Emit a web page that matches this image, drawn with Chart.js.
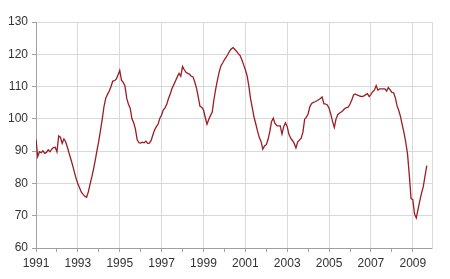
<!DOCTYPE html>
<html>
<head>
<meta charset="utf-8">
<script src="https://cdn.jsdelivr.net/npm/chart.js@4.4.1/dist/chart.umd.min.js"></script>
<style>
  html, body { margin: 0; padding: 0; background: #fff; }
  #wrap { position: relative; width: 450px; height: 279px; }
</style>
</head>
<body>
<div id="wrap"><canvas id="chart"></canvas></div>
<script>
// monthly index, Jan 1991 .. Sep 2009
const startYear = 1991;
const indexValues = [
  93.7, 88.3, 89.8, 89.5, 90.1, 89.3, 89.6, 90.4, 89.8, 90.6, 91.1, 91.2,       // 1991
  89.8, 94.7, 94.3, 92.4, 93.8, 92.9, 91.2, 89.3, 87.5, 85.6, 83.5, 81.5,       // 1992
  79.9, 78.6, 77.3, 76.6, 76.0, 75.7, 77.4, 79.8, 82.0, 84.5, 87.3, 90.3,       // 1993
  93.2, 96.6, 100.0, 103.9, 106.4, 107.6, 108.6, 110.0, 111.7, 111.8, 112.3, 113.6, // 1994
  115.0, 112.0, 111.3, 110.2, 106.4, 104.5, 103.3, 100.0, 98.8, 96.8, 93.5, 92.6,  // 1995
  92.5, 92.8, 92.6, 93.1, 92.4, 92.5, 93.3, 95.0, 96.6, 97.6, 98.4, 100.2,      // 1996
  101.2, 102.8, 103.4, 104.6, 106.4, 107.8, 109.5, 110.6, 111.8, 113.0, 114.1, 113.2, // 1997
  116.2, 115.2, 114.4, 114.1, 113.8, 113.2, 113.0, 111.4, 109.5, 106.8, 103.9, 103.6, // 1998
  102.8, 100.5, 98.3, 99.8, 101.0, 102.0, 106.0, 109.2, 112.0, 114.5, 116.4, 117.3,   // 1999
  118.3, 119.1, 120.0, 121.0, 121.7, 122.1, 121.5, 120.9, 120.2, 119.6, 118.3, 116.8, // 2000
  115.2, 113.4, 110.2, 106.2, 103.4, 100.5, 98.4, 96.2, 94.2, 93.0, 90.6, 91.6,  // 2001
  92.0, 93.6, 96.0, 99.1, 100.2, 98.6, 97.9, 97.8, 97.8, 95.3, 97.6, 98.8,       // 2002
  97.6, 95.2, 94.0, 93.3, 92.4, 91.0, 92.8, 93.4, 94.0, 95.8, 99.9, 100.5,       // 2003
  101.6, 103.8, 104.8, 105.1, 105.3, 105.6, 105.9, 106.3, 106.8, 104.7, 104.6, 104.3, // 2004
  103.3, 101.4, 99.2, 97.3, 100.0, 101.3, 101.8, 102.1, 102.6, 103.2, 103.5, 103.6,   // 2005
  104.6, 105.8, 107.4, 107.7, 107.4, 107.2, 107.0, 106.9, 107.1, 107.5, 107.8, 106.9, // 2006
  107.6, 108.4, 108.9, 110.3, 108.9, 109.3, 109.3, 109.3, 109.3, 108.6, 109.7, 109.0, // 2007
  108.2, 108.1, 106.5, 104.0, 102.5, 100.6, 98.0, 95.6, 92.6, 89.0, 82.5, 75.3,      // 2008
  75.0, 70.5, 69.3, 72.0, 74.6, 77.0, 79.0, 82.3, 85.5                               // 2009
];
const yearTicks = [1991, 1992, 1993, 1994, 1995, 1996, 1997, 1998, 1999, 2000,
                   2001, 2002, 2003, 2004, 2005, 2006, 2007, 2008, 2009];
const labelYears = [1991, 1993, 1995, 1997, 1999, 2001, 2003, 2005, 2007, 2009];

const points = indexValues.map((v, i) => ({ x: startYear + i / 12, y: v }));

const gridColor = '#d9d9d9';
const axisColor = '#a0a0a0';
const textFont = { family: "'Liberation Sans', Arial, sans-serif", size: 12 };

new Chart(document.getElementById('chart'), {
  type: 'line',
  data: {
    datasets: [{
      data: points,
      borderColor: '#9b1c22',
      borderWidth: 1.3,
      pointRadius: 0,
      tension: 0,
      fill: false
    }]
  },
  options: {
    responsive: true,
    maintainAspectRatio: false,
    animation: false,
    layout: { padding: { top: 22, right: 18, left: 0, bottom: 0 } },
    plugins: { legend: { display: false }, tooltip: { enabled: false } },
    scales: {
      x: {
        type: 'linear',
        min: startYear,
        max: startYear + 227 / 12,
        afterBuildTicks: (scale) => { scale.ticks = yearTicks.map(v => ({ value: v })); },
        afterFit: (scale) => { scale.height = 31; },
        ticks: {
          autoSkip: false,
          maxRotation: 0,
          padding: 4,
          color: '#333',
          font: textFont,
          callback: (v) => labelYears.includes(v) ? String(v) : ''
        },
        grid: {
          color: (c) => (c.tick && labelYears.includes(c.tick.value)) ? gridColor : 'rgba(0,0,0,0)',
          tickColor: axisColor,
          tickLength: 4
        },
        border: { color: axisColor, width: 1 }
      },
      y: {
        min: 60,
        max: 130,
        afterFit: (scale) => { scale.width = 36; },
        ticks: { stepSize: 10, padding: 4, color: '#333', font: textFont },
        grid: { color: gridColor, tickColor: axisColor, tickLength: 4 },
        border: { color: axisColor, width: 1 }
      },
      y2: {
        position: 'right',
        min: 60,
        max: 130,
        afterFit: (scale) => { scale.width = 0; },
        ticks: { display: false },
        grid: { drawOnChartArea: false, drawTicks: false },
        border: { color: gridColor, width: 1 }
      }
    }
  }
});
</script>
</body>
</html>
